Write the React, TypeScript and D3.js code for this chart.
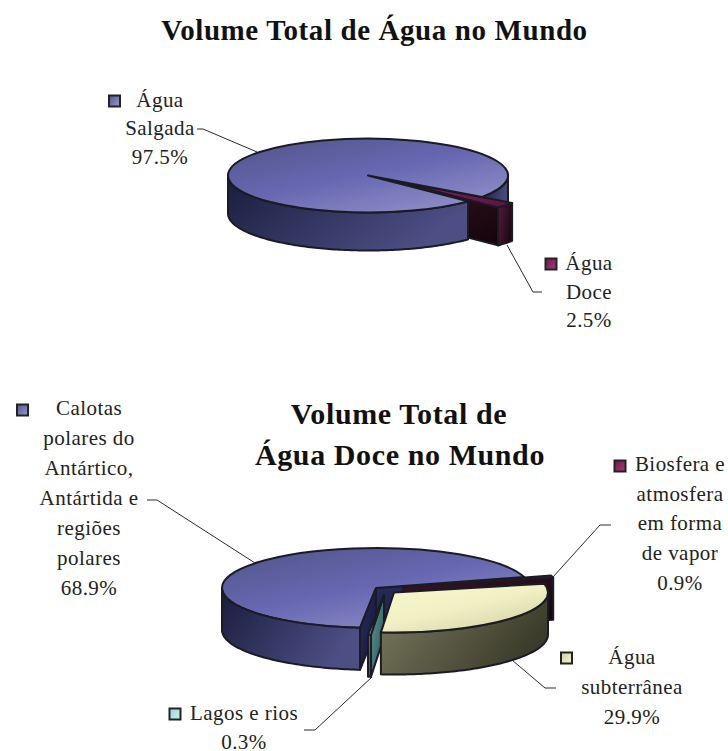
import React from "react";
import * as d3 from "d3";

// ---- data ----
const worldLabels = ["Água Doce", "Água Salgada"];
const worldValues = [2.5, 97.5];
const freshLabels = ["Biosfera e atmosfera em forma de vapor", "Água subterrânea", "Lagos e rios", "Calotas polares do Antártico, Antártida e regiões polares"];
const freshValues = [0.9, 29.9, 0.3, 68.9];

// ---- layout ----
const FONT = "'Liberation Serif', 'Times New Roman', serif";
const rad = (d: number) => (d * Math.PI) / 180;

type Pal = { top: string[]; wall: string[]; cut: string[] };
const BLUE: Pal = { top: ["#51558a", "#6767b2", "#9292ca"], wall: ["#191d3c", "#4c4e84"], cut: ["#2a2c60", "#14163a"] };
const MAROON: Pal = { top: ["#8c1f60", "#7a1a55", "#5c1340"], wall: ["#5a1a40", "#1c0814"], cut: ["#3e1229", "#120509"] };
const CREAM: Pal = { top: ["#f8f8cf", "#f0f0c4", "#d2d2a6"], wall: ["#7c7c60", "#3c3c2c"], cut: ["#55553f", "#33332a"] };
const TEAL: Pal = { top: ["#c4f0f0", "#a4e0dc", "#7cc0bc"], wall: ["#6fa8a4", "#2c5052"], cut: ["#5f9c98", "#2a4e50"] };

type Chart = {
  id: string; values: number[]; startDeg: number; cx: number; cy: number; rx: number; ry: number; depth: number;
  offsets: [number, number][]; palettes: Pal[]; order: [number, string][];
};

const charts: Chart[] = [
  {
    id: "w", values: worldValues, startDeg: 125.4, cx: 368, cy: 175.5, rx: 140, ry: 37, depth: 38,
    offsets: [[30, 6], [0, 0]], palettes: [MAROON, BLUE],
    order: [[1, "outer1"], [1, "end"], [0, "end"], [0, "outer0"], [0, "top"], [1, "outer0"], [1, "top"]],
  },
  {
    id: "f", values: freshValues, startDeg: 74, cx: 376, cy: 588, rx: 154, ry: 40, depth: 42,
    offsets: [[27, -1.5], [18, 4.5], [8, 7], [0, 0]], palettes: [MAROON, CREAM, TEAL, BLUE],
    order: [[3, "end"], [0, "end"], [0, "top"], [3, "top"], [3, "outer0"], [3, "start"], [2, "start"], [2, "outer0"], [2, "top"], [1, "outer0"], [1, "top"]],
  },
];

type Lab = { lines: string[]; x: number; y: number[]; sq: [number, number]; fill: string };
const labels: Lab[] = [
  { lines: ["Água", "Salgada", "97.5%"], x: 160, y: [107, 135, 164], sq: [114.5, 101], fill: "blue" },
  { lines: ["Água", "Doce", "2.5%"], x: 589, y: [270, 299, 327], sq: [551, 264], fill: "maroon" },
  { lines: ["Calotas", "polares do", "Antártico,", "Antártida e", "regiões", "polares", "68.9%"], x: 89, y: [415, 445, 475, 505, 535, 565, 595], sq: [22.5, 410], fill: "blue" },
  { lines: ["Biosfera e", "atmosfera", "em forma", "de vapor", "0.9%"], x: 680, y: [471, 501, 530, 560, 590], sq: [620, 466], fill: "maroon" },
  { lines: ["Água", "subterrânea", "29.9%"], x: 632, y: [664, 694, 724], sq: [566.5, 658], fill: "cream" },
  { lines: ["Lagos e rios", "0.3%"], x: 244, y: [720, 749], sq: [175, 714], fill: "teal" },
];
const titles = [
  { t: "Volume Total de Água no Mundo", x: 374.5, y: 40, size: 29 },
  { t: "Volume Total de", x: 399, y: 424, size: 30 },
  { t: "Água Doce no Mundo", x: 400, y: 465, size: 30 },
];
const leaders: [number, number][][] = [
  [[197, 129], [203, 129], [257, 152]],
  [[507, 245], [533, 292], [542, 292]],
  [[147, 500], [157, 500], [255, 563]],
  [[611, 525], [600, 525], [553, 577]],
  [[512, 660], [545, 688], [556, 688]],
  [[372, 677], [315, 730], [304, 730]],
];

const STROKE = "#1b1b24";

function Pie3D({ c }: { c: Chart }) {
  const arcs = d3.pie<number>().sort(null).startAngle(rad(c.startDeg)).endAngle(rad(c.startDeg + 360))(c.values);
  const arcGen = d3.arc<any>().innerRadius(0).outerRadius(c.rx);
  const line = d3.line<[number, number]>();

  const faces = c.order.map(([i, face], k) => {
    const a = arcs[i];
    const [dx, dy] = c.offsets[i];
    const a0 = a.startAngle - Math.PI / 2;
    const a1 = a.endAngle - Math.PI / 2;
    const ox = c.cx + dx, oy = c.cy + dy;
    const pt = (t: number): [number, number] => [ox + c.rx * Math.cos(t), oy + c.ry * Math.sin(t)];
    const fillId = (n: string) => `url(#${c.id}-${i}-${n})`;
    const common = { stroke: STROKE, strokeWidth: 2, strokeLinejoin: "round" as const };

    if (face === "top") {
      return (
        <path key={k} d={arcGen(a) as string} fill={fillId("top")} {...common} vectorEffect="non-scaling-stroke"
          transform={`translate(${ox},${oy}) scale(1,${c.ry / c.rx})`} />
      );
    }
    if (face === "start" || face === "end") {
      const t = face === "start" ? a0 : a1;
      const p = pt(t);
      const poly: [number, number][] = [[ox, oy], p, [p[0], p[1] + c.depth], [ox, oy + c.depth], [ox, oy]];
      return <path key={k} d={line(poly) as string} fill={fillId("cut")} {...common} />;
    }
    // outer wall: only the part of the rim facing the viewer
    const windows: [number, number][] = [[0, Math.PI], [2 * Math.PI, 3 * Math.PI]];
    const segs = windows
      .map(([s, e]) => [Math.max(s, a0), Math.min(e, a1)] as [number, number])
      .filter(([s, e]) => e > s);
    const seg = segs[face === "outer1" ? 1 : 0];
    if (!seg) return null;
    const ts = d3.range(seg[0], seg[1], 0.02).concat(seg[1]);
    const upper = ts.map(pt);
    const lower = ts.slice().reverse().map((t) => { const p = pt(t); return [p[0], p[1] + c.depth] as [number, number]; });
    const d = (line(upper.concat(lower)) as string) + "Z";
    return <path key={k} d={d} fill={fillId("wall")} {...common} />;
  });

  return (
    <g>
      <defs>
        {c.palettes.map((p, i) => (
          <React.Fragment key={i}>
            <linearGradient id={`${c.id}-${i}-top`} x1="0.05" y1="0" x2="0.85" y2="1">
              <stop offset="0" stopColor={p.top[0]} /><stop offset="0.5" stopColor={p.top[1]} /><stop offset="1" stopColor={p.top[2]} />
            </linearGradient>
            <linearGradient id={`${c.id}-${i}-wall`} x1="0" y1="0" x2="1" y2="0.4">
              <stop offset="0" stopColor={p.wall[0]} /><stop offset="1" stopColor={p.wall[1]} />
            </linearGradient>
            <linearGradient id={`${c.id}-${i}-cut`} x1="0" y1="0" x2="1" y2="1">
              <stop offset="0" stopColor={p.cut[0]} /><stop offset="1" stopColor={p.cut[1]} />
            </linearGradient>
          </React.Fragment>
        ))}
      </defs>
      {faces}
    </g>
  );
}

const squarePalettes: Record<string, string[]> = {
  blue: ["#54548e", "#9a9ad0"],
  maroon: ["#6e1a50", "#a83878"],
  cream: ["#cfcfa4", "#f6f6d2"],
  teal: ["#9fd8d8", "#c8f0f0"],
};

export default function App() {
  const leaderLine = d3.line();
  return (
    <svg width={728} height={751} style={{ position: "absolute", left: 0, top: 0, display: "block", background: "#fff" }}>
      <defs>
        {Object.entries(squarePalettes).map(([k, v]) => (
          <linearGradient key={k} id={`sq-${k}`} x1="0" y1="0" x2="1" y2="1">
            <stop offset="0" stopColor={v[0]} /><stop offset="1" stopColor={v[1]} />
          </linearGradient>
        ))}
      </defs>
      {leaders.map((l, i) => (
        <path key={i} d={leaderLine(l) as string} fill="none" stroke="#2a2a2a" strokeWidth={1} />
      ))}
      {charts.map((c) => <Pie3D key={c.id} c={c} />)}
      {titles.map((t, i) => (
        <text key={i} x={t.x} y={t.y} textAnchor="middle" fontFamily={FONT} fontWeight="bold" fontSize={t.size} letterSpacing={0.6} fill="#111">{t.t}</text>
      ))}
      {labels.map((l, i) => (
        <g key={i}>
          <rect x={l.sq[0] - 5.5} y={l.sq[1] - 5.5} width={11} height={11} fill={`url(#sq-${l.fill})`} stroke="#222" strokeWidth={2} />
          {l.lines.map((s, j) => (
            <text key={j} x={l.x} y={l.y[j]} textAnchor="middle" fontFamily={FONT} fontSize={21} letterSpacing={0.45} fill="#222">{s}</text>
          ))}
        </g>
      ))}
    </svg>
  );
}
